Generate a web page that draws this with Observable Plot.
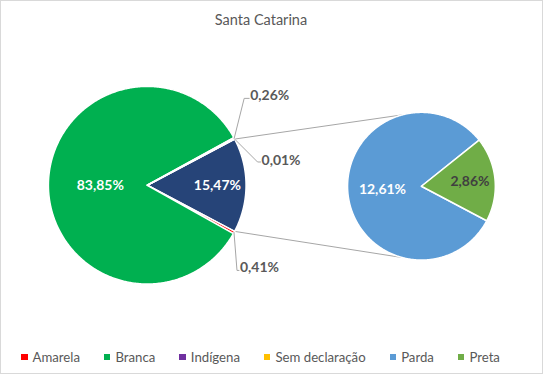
<!DOCTYPE html>
<html>
<head>
<meta charset="utf-8">
<script src="https://cdn.jsdelivr.net/npm/d3@7"></script>
<script src="https://cdn.jsdelivr.net/npm/@observablehq/plot@0.6"></script>
<style>
  body { margin: 0; background: #fff; font-family: Lato, "Open Sans", sans-serif; }
  #chart { position: relative; width: 543px; height: 374px; box-sizing: border-box; border: 1px solid #d9d9d9; overflow: hidden; background: #fff; }
  #title { position: absolute; top: 10px; left: 0; width: 520px; text-align: center; font-size: 14.5px; line-height: 18px; color: #595959; }
  #plot { position: absolute; top: 39px; left: -1px; }
  #legend { position: absolute; top: 347px; left: 20px; display: flex; align-items: center; font-size: 13.2px; line-height: 18px; color: #595959; white-space: nowrap; }
  #legend .item { display: flex; align-items: center; margin-right: 24px; }
  #legend .sw { width: 6.5px; height: 6.5px; margin-right: 5px; }
</style>
</head>
<body>
<div id="chart">
  <div id="title">Santa Catarina</div>
  <div id="plot"></div>
  <div id="legend"></div>
</div>
<script>
// ---- data ----
const categories = ["Amarela", "Branca", "Indígena", "Sem declaração", "Parda", "Preta"];
const values     = [0.41, 83.85, 0.26, 0.01, 12.61, 2.86];
const colors     = ["#FF0000", "#00B050", "#7030A0", "#FFC000", "#5B9BD5", "#70AD47"];
const inSecond   = [false, false, false, false, true, true];
const otherColor = "#264478";
const chartTitle = "Santa Catarina";

const fmt = v => v.toFixed(2).replace(".", ",") + "%";

// ---- layout (pixels) ----
const W = 543, H = 290;
const R = 99;                 // px per unit = main pie radius
const cxPx = 147, cyPx = 145; // main pie centre inside svg
const c0 = [0, 0];
const r0 = 1;
const c2 = [2.775, -0.01];
const r2 = 0.7475;
const secondStart = 27.9;     // clockwise screen degrees, start of first slice of second pie
const connectorAngle = 105;

const rad = d => d * Math.PI / 180;
const pt = (c, r, deg) => [c[0] + r * Math.cos(rad(deg)), c[1] - r * Math.sin(rad(deg))];
const px = (p, dx, dy) => [p[0] + dx / R, p[1] - dy / R];

// ---- slices ----
const total = d3.sum(values);
const otherVal = d3.sum(values.filter((v, i) => inSecond[i]));
const mainItems = categories.map((c, i) => ({name: c, value: values[i], color: colors[i]})).filter((d, i) => !inSecond[i]);
const secItems = categories.map((c, i) => ({name: c, value: values[i], color: colors[i]})).filter((d, i) => inSecond[i]);

const half = 180 * otherVal / total;
const slices = [];
slices.push({name: "Other", value: otherVal, color: otherColor, c: c0, r: r0, a0: -half, a1: half});
let a = half;
for (const d of mainItems) {
  const span = 360 * d.value / total;
  slices.push({...d, c: c0, r: r0, a0: a, a1: a + span});
  a += span;
}
let b = secondStart;
for (const d of secItems) {
  const span = 360 * d.value / otherVal;
  slices.push({...d, c: c2, r: r2, a0: b, a1: b + span});
  b += span;
}

const polyRows = [];
for (const s of slices) {
  const n = Math.max(2, Math.ceil((s.a1 - s.a0) / 0.5));
  polyRows.push({slice: s.name, fill: s.color, x: s.c[0], y: s.c[1]});
  for (let k = 0; k <= n; k++) {
    const p = pt(s.c, s.r, s.a0 + (s.a1 - s.a0) * k / n);
    polyRows.push({slice: s.name, fill: s.color, x: p[0], y: p[1]});
  }
  polyRows.push({slice: s.name, fill: s.color, x: s.c[0], y: s.c[1]});
}

const mid = s => (s.a0 + s.a1) / 2;
const byName = Object.fromEntries(slices.map(s => [s.name, s]));

// connectors
const connRows = [];
[[-half, -connectorAngle], [half, connectorAngle]].forEach(([am, as], i) => {
  const p1 = pt(c0, r0, am), p2 = pt(c2, r2, as);
  connRows.push({g: i, x: p1[0], y: p1[1]}, {g: i, x: p2[0], y: p2[1]});
});

// inside labels
const insideFactor = {"Branca": 0.475, "Other": 0.71, "Parda": 0.53, "Preta": 0.66};
const insideColor = {"Branca": "#fff", "Other": "#fff", "Parda": "#fff", "Preta": "#404040"};
const insideRows = Object.keys(insideFactor).map(n => {
  const s = byName[n];
  const p = pt(s.c, s.r * insideFactor[n], mid(s));
  return {x: p[0], y: p[1], text: fmt(s.value), color: insideColor[n]};
});

// outside labels with leaders (pixel offsets from slice edge)
const leaderOff = {
  "Indígena":       {elbow: [10, -40], end: [15, -40], text: [16, -43]},
  "Sem declaração": {elbow: [23, 23],  end: [26, 23],  text: [27, 22]},
  "Amarela":        {elbow: [3, 38],   end: [5, 38],   text: [6, 35]}
};
const leaderRows = [], outsideRows = [];
for (const n of Object.keys(leaderOff)) {
  const s = byName[n];
  const anc = pt(s.c, s.r, mid(s));
  const o = leaderOff[n];
  [anc, px(anc, ...o.elbow), px(anc, ...o.end)].forEach(p => leaderRows.push({g: n, x: p[0], y: p[1]}));
  const t = px(anc, ...o.text);
  outsideRows.push({x: t[0], y: t[1], text: fmt(s.value)});
}

const chart = Plot.plot({
  width: W, height: H,
  margin: 0,
  style: {fontFamily: "Lato, sans-serif", background: "transparent", overflow: "visible"},
  x: {domain: [-cxPx / R, (W - cxPx) / R], range: [0, W], axis: null},
  y: {domain: [-(H - cyPx) / R, cyPx / R], range: [H, 0], axis: null},
  color: {type: "identity"},
  marks: [
    Plot.line(connRows, {x: "x", y: "y", z: "g", stroke: "#a6a6a6", strokeWidth: 1}),
    Plot.line(polyRows, {x: "x", y: "y", z: "slice", fill: "fill", stroke: "#fff", strokeWidth: 1.5, strokeLinejoin: "round", curve: "linear"}),
    Plot.line(leaderRows, {x: "x", y: "y", z: "g", stroke: "#a6a6a6", strokeWidth: 1}),
    Plot.text(insideRows, {x: "x", y: "y", text: "text", fill: "color", fontSize: 14, fontWeight: "bold"}),
    Plot.text(outsideRows, {x: "x", y: "y", text: "text", fill: "#595959", fontSize: 14, fontWeight: "bold", textAnchor: "start"})
  ]
});
document.getElementById("plot").appendChild(chart);
document.getElementById("title").textContent = chartTitle;

const legend = document.getElementById("legend");
categories.forEach((c, i) => {
  const it = document.createElement("div");
  it.className = "item";
  const sw = document.createElement("span");
  sw.className = "sw";
  sw.style.background = colors[i];
  const tx = document.createElement("span");
  tx.textContent = c;
  it.appendChild(sw); it.appendChild(tx);
  legend.appendChild(it);
});
</script>
</body>
</html>
